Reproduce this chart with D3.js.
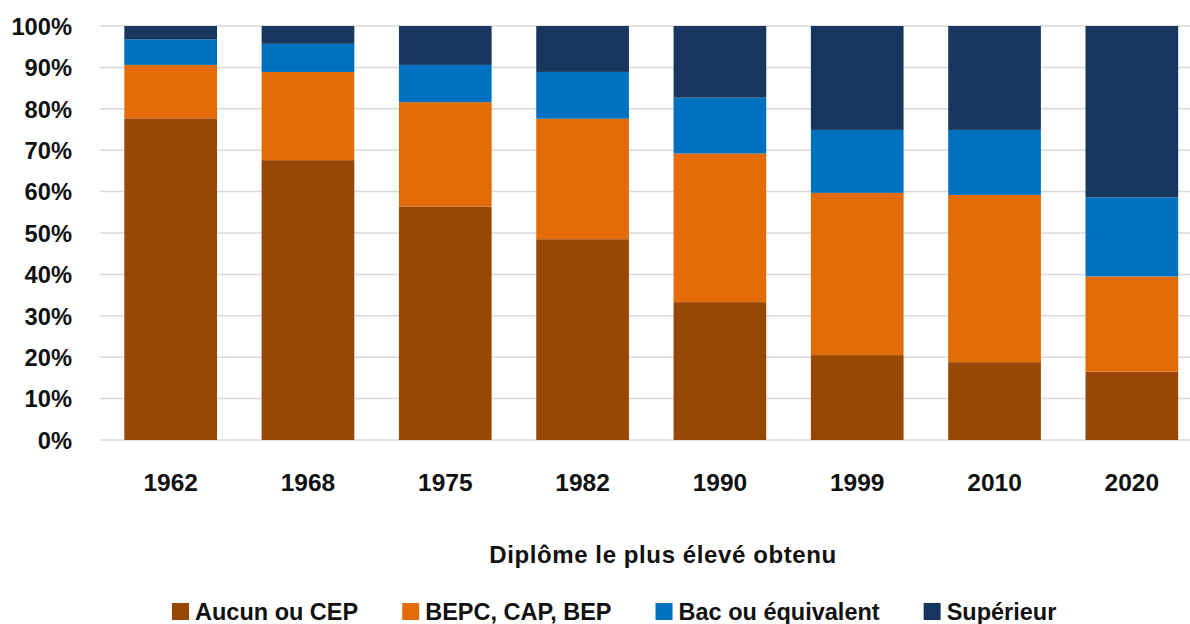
<!DOCTYPE html>
<html>
<head>
<meta charset="utf-8">
<script src="https://cdn.jsdelivr.net/npm/d3@7"></script>
<style>
  html, body { margin: 0; padding: 0; background: #fff; }
  svg text { font-family: "Liberation Sans", Arial, sans-serif; font-weight: bold; fill: #111; }
</style>
</head>
<body>
<svg id="chart" width="1190" height="624"></svg>
<script>
const years = ["1962", "1968", "1975", "1982", "1990", "1999", "2010", "2020"];
const seriesNames = ["Aucun ou CEP", "BEPC, CAP, BEP", "Bac ou équivalent", "Supérieur"];
const aucun     = [77.7, 67.6, 56.4, 48.5, 33.3, 20.5, 18.8, 16.5];
const bepc      = [12.9, 21.3, 25.2, 29.1, 35.9, 39.2, 40.4, 23.0];
const bac       = [ 6.2,  6.8,  9.0, 11.3, 13.5, 15.2, 15.7, 19.1];
const superieur = [ 3.2,  4.3,  9.4, 11.1, 17.3, 25.1, 25.1, 41.4];
const yTicks = [0, 10, 20, 30, 40, 50, 60, 70, 80, 90, 100];
const colors = ["#974706", "#E36C09", "#0070C0", "#17375E"];
const xTitle = "Diplôme le plus élevé obtenu";

const rows = years.map((y, i) => ({
  year: y,
  "Aucun ou CEP": aucun[i],
  "BEPC, CAP, BEP": bepc[i],
  "Bac ou équivalent": bac[i],
  "Supérieur": superieur[i]
}));

const svg = d3.select("#chart");
const x = d3.scaleBand().domain(years).range([102, 1200.5]).paddingInner(0.325).paddingOuter(0.1625);
const y = d3.scaleLinear().domain([0, 100]).range([440, 26]);
const color = d3.scaleOrdinal().domain(seriesNames).range(colors);

// gridlines
svg.append("g")
  .selectAll("line").data(yTicks).join("line")
  .attr("x1", 100).attr("x2", 1190)
  .attr("y1", d => y(d)).attr("y2", d => y(d))
  .attr("stroke", "#d9d9d9").attr("stroke-width", 1.5);

// y axis labels
const yAxis = d3.axisLeft(y).tickValues(yTicks).tickFormat(d => d + "%").tickSize(0).tickPadding(0);
const yg = svg.append("g").attr("transform", "translate(72,0)").call(yAxis);
yg.select(".domain").remove();
yg.selectAll("text").style("font-size", "23.7px").attr("dy", "0.35em")
  .style("font-family", "'Liberation Sans', Arial, sans-serif").style("font-weight", "bold").attr("fill", "#111");

// stacked bars
const stack = d3.stack().keys(seriesNames);
const stacked = stack(rows);
svg.append("g").selectAll("g").data(stacked).join("g")
  .attr("fill", d => color(d.key))
  .selectAll("rect").data(d => d).join("rect")
  .attr("x", d => x(d.data.year))
  .attr("width", x.bandwidth())
  .attr("y", d => y(d[1]))
  .attr("height", d => y(d[0]) - y(d[1]));

// x axis labels
const xAxis = d3.axisBottom(x).tickSize(0).tickPadding(0);
const xg = svg.append("g").attr("transform", "translate(0,482)").call(xAxis);
xg.select(".domain").remove();
xg.selectAll("text").attr("dy", "0.35em").style("font-size", "24.5px")
  .style("font-family", "'Liberation Sans', Arial, sans-serif").style("font-weight", "bold").attr("fill", "#111");

// axis title
svg.append("text").attr("x", 663).attr("y", 563).attr("text-anchor", "middle")
  .style("font-size", "24px").style("letter-spacing", "0.6px").text(xTitle);

// legend
const legend = svg.append("g");
let lx = 172;
seriesNames.forEach((name, i) => {
  const g = legend.append("g");
  g.append("rect").attr("x", lx).attr("y", 603).attr("width", 17).attr("height", 17).attr("fill", colors[i]);
  const t = g.append("text").attr("x", lx + 23).attr("y", 620).style("font-size", "23.5px").text(name);
  lx = lx + 23 + t.node().getComputedTextLength() + 44;
});
</script>
</body>
</html>
